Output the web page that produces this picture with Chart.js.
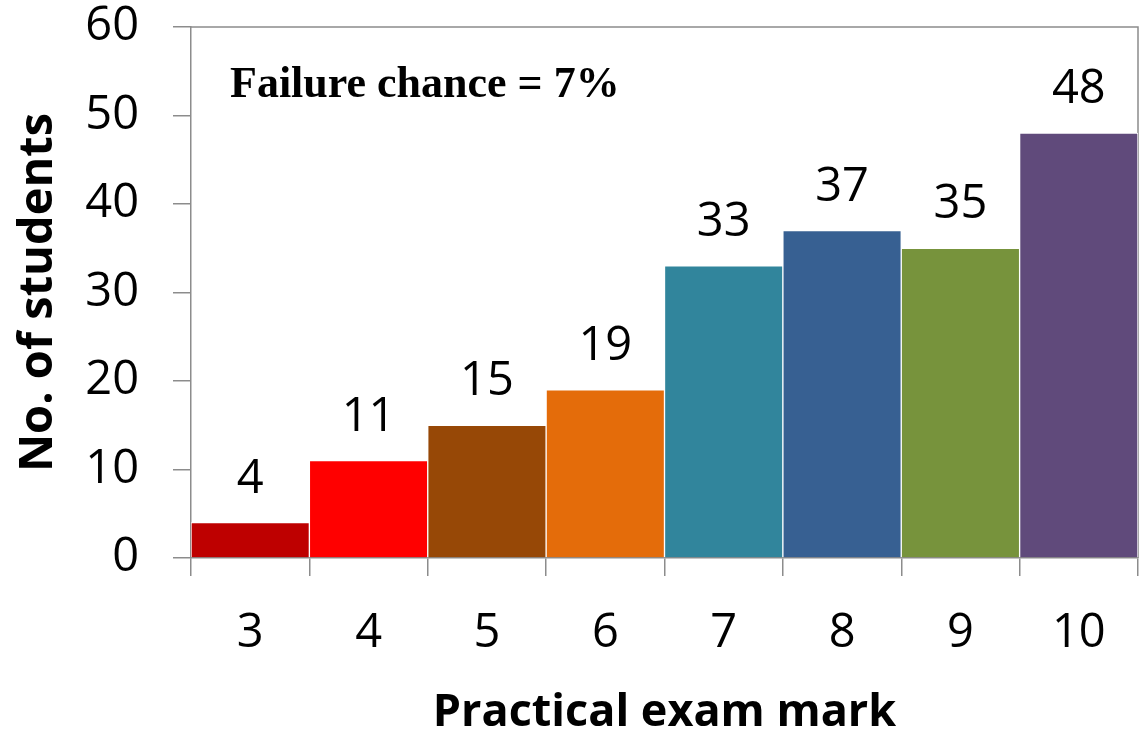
<!DOCTYPE html>
<html>
<head>
<meta charset="utf-8">
<script src="https://cdn.jsdelivr.net/npm/chart.js@4.4.0/dist/chart.umd.min.js"></script>
<style>
  html, body { margin: 0; padding: 0; background: #ffffff; }
  #wrap { width: 1142px; height: 731px; position: relative; }
</style>
</head>
<body>
<div id="wrap"><canvas id="c" width="1142" height="731"></canvas></div>
<script>
const categories = ['3', '4', '5', '6', '7', '8', '9', '10'];
const students = [4, 11, 15, 19, 33, 37, 35, 48];
const barColors = ['#BE0000', '#FF0000', '#974806', '#E46C0A', '#31859C', '#376092', '#77933C', '#604A7B'];
const yTicks = [0, 10, 20, 30, 40, 50, 60];
const annotationText = 'Failure chance = 7%';
const xTitle = 'Practical exam mark';
const yTitle = 'No. of students';

const axisGray = '#8C8C8C';
const numFont = { family: "'Open Sans', sans-serif", size: 47 };

const boxPlugin = {
  id: 'box',
  beforeDatasetsDraw(chart) {
    const a = chart.chartArea;
    const ctx = chart.ctx;
    ctx.save();
    ctx.strokeStyle = axisGray;
    ctx.lineWidth = 1.5;
    ctx.beginPath();
    ctx.moveTo(a.left, a.top);
    ctx.lineTo(a.right, a.top);
    ctx.lineTo(a.right, a.bottom);
    ctx.stroke();
    ctx.restore();
  }
};

const labelPlugin = {
  id: 'valueLabels',
  afterDatasetsDraw(chart) {
    const ctx = chart.ctx;
    const meta = chart.getDatasetMeta(0);
    ctx.save();
    ctx.fillStyle = '#000';
    ctx.font = numFont.size + 'px ' + numFont.family;
    ctx.textAlign = 'center';
    ctx.textBaseline = 'alphabetic';
    meta.data.forEach((bar, i) => {
      ctx.fillText(String(students[i]), bar.x, bar.y - 30);
    });
    const a = chart.chartArea;
    ctx.font = "bold 44px 'Liberation Serif', serif";
    ctx.textAlign = 'left';
    ctx.fillText(annotationText, a.left + 39, a.top + 70);
    ctx.restore();
  }
};

new Chart(document.getElementById('c'), {
  type: 'bar',
  data: {
    labels: categories,
    datasets: [{
      data: students,
      backgroundColor: barColors,
      borderColor: '#ffffff',
      borderWidth: 1,
      categoryPercentage: 1,
      barPercentage: 1
    }]
  },
  options: {
    responsive: false,
    animation: false,
    layout: { padding: { top: 27, right: 4, left: 0, bottom: 0 } },
    plugins: { legend: { display: false }, tooltip: { enabled: false } },
    scales: {
      x: {
        grid: { offset: true, drawOnChartArea: false, drawTicks: true, tickLength: 18, color: axisGray, lineWidth: 1.5 },
        border: { display: true, color: axisGray, width: 1.5 },
        ticks: { color: '#000', font: numFont, padding: 29, maxRotation: 0 },
        title: { display: true, text: xTitle, color: '#000', font: { family: "'Open Sans', sans-serif", size: 45, weight: 'bold', lineHeight: 0.8 }, padding: { top: 0, bottom: 0 } },
        afterFit(scale) { scale.height = 173; scale.paddingLeft = 0; scale.paddingRight = 0; }
      },
      y: {
        min: 0, max: 60,
        afterBuildTicks(scale) { scale.ticks = yTicks.map(v => ({ value: v })); },
        grid: { drawOnChartArea: false, drawTicks: true, tickLength: 18, color: axisGray, lineWidth: 1.5 },
        border: { display: true, color: axisGray, width: 1.5 },
        ticks: { color: '#000', font: numFont, padding: 34 },
        title: { display: true, text: yTitle, color: '#000', font: { family: "'Open Sans', sans-serif", size: 47, weight: 'bold', lineHeight: 1.2 }, padding: { top: 10, bottom: 0 } },
        afterFit(scale) { scale.width = 191; scale.paddingTop = 0; scale.paddingBottom = 0; }
      }
    }
  },
  plugins: [boxPlugin, labelPlugin]
});
</script>
</body>
</html>
